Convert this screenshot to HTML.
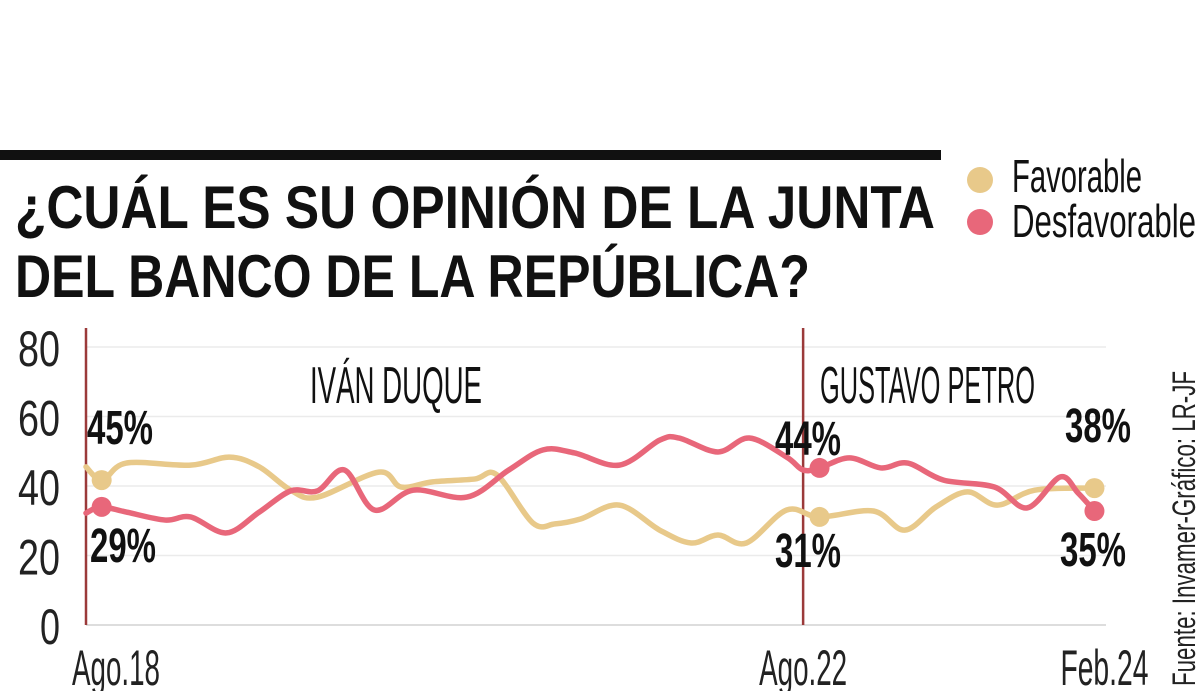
<!DOCTYPE html>
<html><head><meta charset="utf-8"><style>
html,body{margin:0;padding:0;background:#fff;width:1200px;height:691px;overflow:hidden}
svg{display:block}
</style></head><body>
<svg width="1200" height="691" viewBox="0 0 1200 691" xmlns="http://www.w3.org/2000/svg" font-family="Liberation Sans, sans-serif">
<rect x="0" y="150" width="941" height="10" fill="#111"/>
<text x="15" y="228" font-size="60" font-weight="bold" fill="#111" textLength="920" lengthAdjust="spacingAndGlyphs">¿CUÁL ES SU OPINIÓN DE LA JUNTA</text>
<text x="15" y="297" font-size="60" font-weight="bold" fill="#111" textLength="795" lengthAdjust="spacingAndGlyphs">DEL BANCO DE LA REPÚBLICA?</text>
<g>
<circle cx="980" cy="180" r="13" fill="#e8c98a"/>
<text x="1012" y="192" font-size="46" fill="#111" textLength="130" lengthAdjust="spacingAndGlyphs">Favorable</text>
<circle cx="980" cy="222" r="13" fill="#e8677a"/>
<text x="1012" y="237" font-size="46" fill="#111" textLength="184" lengthAdjust="spacingAndGlyphs">Desfavorable</text>
</g>
<text transform="translate(1195,686) rotate(-90)" font-size="32" fill="#222" textLength="315" lengthAdjust="spacingAndGlyphs">Fuente: Invamer-Gráfico: LR-JF</text>
<g id="chart"></g>
</svg>
<script>
const yTicks = [0, 20, 40, 60, 80];
const xLabels = ["Ago.18", "Ago.22", "Feb.24"];
const xLabelT = [0, 48, 67.5];
const favT = [0,1.1,2.7,7.0,9.6,11.6,13.7,15.5,19.6,21.1,23.2,26.0,27.5,29.9,31.4,33.1,35.7,38.4,40.5,42.3,44.2,46.9,49.1,52.7,54.8,56.9,59.0,61.0,63.5,67.5];
const favV = [45.5,41.7,46.6,46,48.3,45.5,38.8,36.8,44,39.7,41.2,42,43.2,29.4,29.1,30.5,34.5,27.3,23.6,25.9,23.6,33.1,31.1,32.8,27.3,34,38.3,34.5,38.8,39.4];
const desT = [0,1.0,2.7,5.3,7.0,9.4,11.6,13.7,15.5,17.3,19.3,21.9,25.5,28.3,30.6,32.7,35.7,38.4,39.7,42.3,44.4,46.9,48,49.1,51.1,53.2,55,57.4,60.8,63,65.2,66.4,67.5];
const desV = [32.2,34,32.5,30.2,31.1,26.5,32.5,38.6,38.6,44.6,33.1,38.8,36.8,44.6,50.4,49.5,46,53.2,53.8,49.8,53.8,48.3,44.6,45.2,48.1,45.2,46.6,41.7,39.7,33.7,42.6,38,32.8];
const markT = [1.05, 49.1, 67.5];
const favMarkV = [41.7, 31.1, 39.4];
const desMarkV = [34, 45.2, 32.8];
const favLabels = ["45%", "31%", "38%"];
const desLabels = ["29%", "44%", "35%"];
const eraT = [0, 48];
const eraNames = ["IVÁN DUQUE", "GUSTAVO PETRO"];

const NS = "http://www.w3.org/2000/svg";
const g = document.getElementById("chart");
const X = t => 86 + t * 14.94;
const Y = v => 625 - v * 3.475;
function mk(tag, attrs, parent) {
  const e = document.createElementNS(NS, tag);
  for (const k in attrs) e.setAttribute(k, attrs[k]);
  (parent || g).appendChild(e);
  return e;
}
yTicks.forEach((v, i) => {
  const l = mk("line", {x1: 86, x2: 1106, y1: Y(v), y2: Y(v), stroke: v === 0 ? "#ddd" : "#ebebeb", "stroke-width": v === 0 ? 2 : 1.5});
  
  
  const t = mk("text", {x: 60, y: Y(v) + 19, "font-size": 50, "text-anchor": "end", fill: "#222", textLength: v === 0 ? 20 : 42, lengthAdjust: "spacingAndGlyphs"});
  t.textContent = v;
  
  
});
xLabels.forEach((s, i) => {
  const t = mk("text", {x: X(xLabelT[i]) + (i === 2 ? 10 : (i === 0 ? 30 : 0)), y: 685, "font-size": 50, "text-anchor": "middle", fill: "#222", textLength: 88, lengthAdjust: "spacingAndGlyphs"});
  t.textContent = s;
  
  
});
eraT.forEach((tt, i) => {
  const l = mk("line", {x1: X(tt), x2: X(tt), y1: 328, y2: 625, stroke: "#9b3a3a", "stroke-width": 2.5});
  
  
  const t = mk("text", {x: i === 0 ? 310 : 820, y: 403, "font-size": 52, fill: "#111", textLength: i === 0 ? 172 : 215, lengthAdjust: "spacingAndGlyphs"});
  t.textContent = eraNames[i];
  
  
});
function smooth(ts, vs) {
  const p = ts.map((t, i) => [X(t), Y(vs[i])]);
  let d = "M" + p[0][0] + "," + p[0][1];
  for (let i = 0; i < p.length - 1; i++) {
    const p0 = p[i - 1] || p[i], p1 = p[i], p2 = p[i + 1], p3 = p[i + 2] || p2;
    const c1 = [p1[0] + (p2[0] - p0[0]) / 6, p1[1] + (p2[1] - p0[1]) / 6];
    const c2 = [p2[0] - (p3[0] - p1[0]) / 6, p2[1] - (p3[1] - p1[1]) / 6];
    d += "C" + c1 + " " + c2 + " " + p2;
  }
  return d;
}
const fl = mk("path", {d: smooth(favT, favV), fill: "none", stroke: "#e8c98a", "stroke-width": 5.5, "stroke-linejoin": "round", "stroke-linecap": "round"});


const dl = mk("path", {d: smooth(desT, desV), fill: "none", stroke: "#e8677a", "stroke-width": 5.5, "stroke-linejoin": "round", "stroke-linecap": "round"});


const favLY = [444, 567, 442];
const desLY = [562, 455, 566];
const lblX = [87, 775, 1065];
markT.forEach((tt, i) => {
  const a = mk("circle", {cx: X(tt), cy: Y(favMarkV[i]), r: 10, fill: "#e8c98a"});
  
  
  const b = mk("circle", {cx: X(tt), cy: Y(desMarkV[i]), r: 10, fill: "#e8677a"});
  
  
  const t1 = mk("text", {x: lblX[i], y: favLY[i], "font-size": 48, "font-weight": "bold", fill: "#111", textLength: 66, lengthAdjust: "spacingAndGlyphs"});
  t1.textContent = favLabels[i];
  
  
  const t2 = mk("text", {x: lblX[i] + (i === 0 ? 3 : (i === 2 ? -5 : 0)), y: desLY[i], "font-size": 48, "font-weight": "bold", fill: "#111", textLength: 66, lengthAdjust: "spacingAndGlyphs"});
  t2.textContent = desLabels[i];
  
  
});
</script>
</body></html>
